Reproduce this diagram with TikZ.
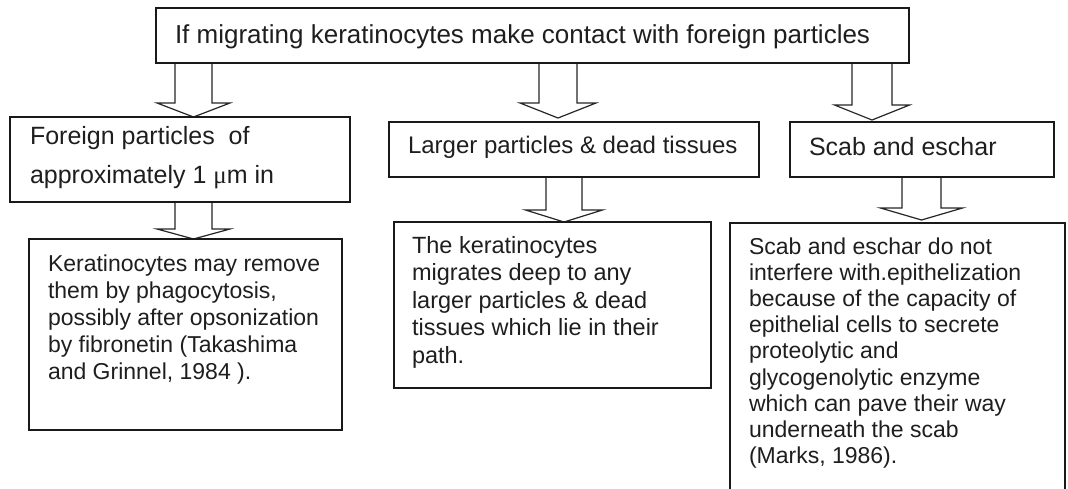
\documentclass[tikz,border=0pt]{standalone}
\usepackage{fontspec}
\setmainfont{Liberation Sans}
\newfontfamily\mufont{Liberation Serif}
\usetikzlibrary{calc}
\pgfdeclarelayer{background}
\pgfsetlayers{background,main}
\definecolor{ink}{HTML}{1E1E1E}
\newcommand\blockarr[5]{% #1 source node, #2 tip coordinate, #3 shaft half width, #4 head half width, #5 head length
  \begin{pgfonlayer}{background}
  \draw[barrowstyle] ($(#2 |- #1.south)+(-#3,0)$) -- ($(#2)+(-#3,-#5)$) -- ($(#2)+(-#4,-#5)$) -- (#2)
     -- ($(#2)+(#4,-#5)$) -- ($(#2)+(#3,-#5)$) -- ($(#2 |- #1.south)+(#3,0)$);
  \end{pgfonlayer}}
\begin{document}
\begin{tikzpicture}[x=1pt,y=-1pt,
  box/.style={draw=black!90, line width=1.8pt, rectangle, inner sep=0pt, outer sep=0pt},
  txt/.style={inner sep=0pt, outer sep=0pt, text=ink, align=left},
  barrowstyle/.style={draw=black!85, line width=1.2pt, fill=white, line join=miter}]
\useasboundingbox (0,0) rectangle (1068,488);
\clip (0,0) rectangle (1068,488);

% boxes
\node[box, minimum width=753pt, minimum height=55pt] (top) at (532.5,35.5) {};
\node[box, minimum width=340pt, minimum height=85pt] (b1) at (180,159.5) {};
\node[box, minimum width=370pt, minimum height=55pt] (b2) at (574,149.5) {};
\node[box, minimum width=264pt, minimum height=55pt] (b3) at (922,149.5) {};
\node[box, minimum width=313pt, minimum height=191pt] (b4) at (185.5,334.5) {};
\node[box, minimum width=317pt, minimum height=166pt] (b5) at (552.5,305) {};
\node[box, minimum width=335pt, minimum height=280pt] (b6) at (897.5,363) {};

% texts
\node[txt, anchor=base west, font=\fontsize{26}{30}\selectfont] (ttop) at (175,43)
  {If migrating keratinocytes make contact with foreign particles};
\node[txt, anchor=north west, font=\fontsize{25}{39}\selectfont] (t1txt) at (30,116.7)
  {\strut Foreign particles~ of\\approximately 1 {\mufont μ}m in};
\node[txt, anchor=base west, font=\fontsize{24}{29}\selectfont] (t2txt) at (408,153)
  {Larger particles \& dead tissues};
\node[txt, anchor=base west, font=\fontsize{25}{30}\selectfont] (t3txt) at (809,155)
  {Scab and eschar};
\node[txt, anchor=north west, font=\fontsize{23}{27.2}\selectfont] (t4txt) at (48,252)
  {\strut Keratinocytes may remove\\them by phagocytosis,\\possibly after opsonization\\by fibronetin (Takashima\\and Grinnel, 1984 ).};
\node[txt, anchor=north west, font=\fontsize{23.5}{27.5}\selectfont] (t5txt) at (412,233.75)
  {\strut The keratinocytes\\migrates deep to any\\larger particles \& dead\\tissues which lie in their\\path.};
\node[txt, anchor=north west, font=\fontsize{23}{26.2}\selectfont] (t6txt) at (749,235.7)
  {\strut Scab and eschar do not\\interfere with.epithelization\\because of the capacity of\\epithelial cells to secrete\\proteolytic and\\glycogenolytic enzyme\\which can pave their way\\underneath the scab\\(Marks, 1986).};

% arrow tips
\coordinate (a1) at (193.5,117);
\coordinate (a2) at (558,118);
\coordinate (a3) at (872,120);
\coordinate (a4) at (193.5,239);
\coordinate (a5) at (564,222);
\coordinate (a6) at (921.5,220);

\blockarr{top}{a1}{18.5}{36.5}{14}
\blockarr{top}{a2}{19}{38}{15}
\blockarr{top}{a3}{20}{37.5}{15}
\blockarr{b1}{a4}{18.5}{36.5}{10}
\blockarr{b2}{a5}{18}{38.5}{12}
\blockarr{b3}{a6}{19.5}{41}{12}
\end{tikzpicture}
\end{document}
